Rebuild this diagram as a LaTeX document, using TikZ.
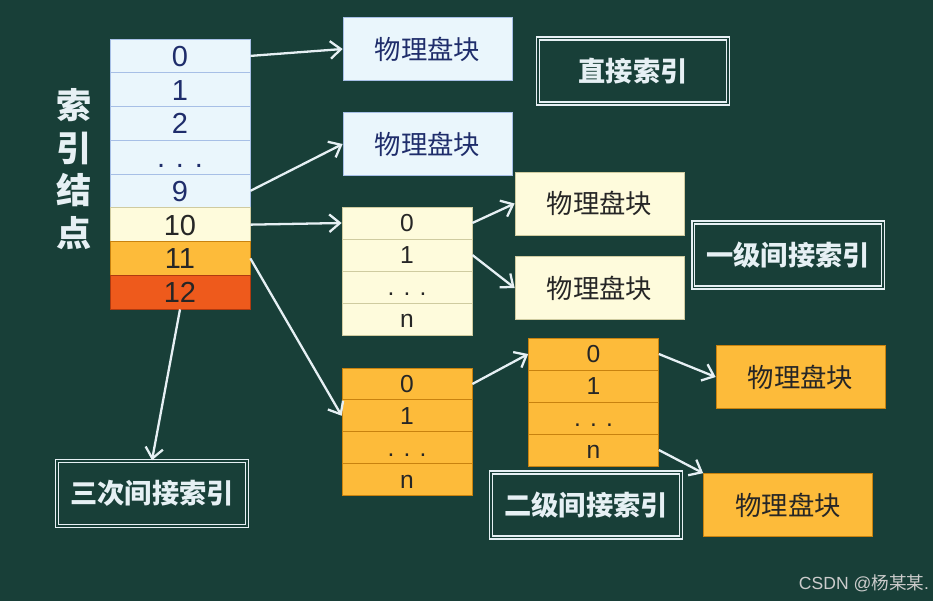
\documentclass[tikz,border=0pt]{standalone}
\usepackage{fontspec}
\setmainfont{Liberation Sans}
\newfontfamily\cjk{Noto Sans CJK SC}
\usetikzlibrary{arrows.meta,positioning}

\definecolor{board}{HTML}{183F38}
\definecolor{paleblue}{HTML}{EAF6FC}
\definecolor{blueline}{HTML}{A7BFE6}
\definecolor{paleyel}{HTML}{FEFBDC}
\definecolor{yelline}{HTML}{CFCBA0}
\definecolor{amber}{HTML}{FDBB3A}
\definecolor{ambline}{HTML}{C8820F}
\definecolor{redor}{HTML}{EE5A1C}
\definecolor{redline}{HTML}{B03A10}
\definecolor{navy}{HTML}{1F2D6B}
\definecolor{chalk}{HTML}{E6F0F4}

\tikzset{
  cell/.style={inner sep=0pt, minimum width=2.6cm, minimum height=0.64cm,
    text height=10pt, text depth=0pt, font=\fontsize{14}{14}\selectfont},
  idxcell/.style={cell, minimum width=2.8cm, minimum height=0.675cm,
    text height=11.8pt, font=\fontsize{16.5}{16.5}\selectfont},
  blu/.style={fill=paleblue, draw=blueline, text=navy},
  yel/.style={fill=paleyel, draw=yelline, text=black!85},
  amb/.style={fill=amber, draw=ambline, text=black!85},
  rd/.style={fill=redor, draw=redline, text=black!85},
  block/.style={inner sep=0pt, minimum width=3.38cm, minimum height=1.26cm,
    font=\cjk\fontsize{15}{15}\selectfont},
  tag/.style={draw=chalk, double=board, line width=0.9pt, double distance=0.6pt,
    minimum width=3.8cm, minimum height=1.3cm, text=chalk,
    font=\cjk\bfseries\fontsize{15.5}{15.5}\selectfont},
  arr/.style={draw=chalk, line width=1.3pt, -{Straight Barb[length=6pt,width=10pt]}}
}

\begin{document}
\begin{tikzpicture}[x=0.02cm, y=-0.02cm]
  \useasboundingbox (0,0) rectangle (933,601);
  \fill[board] (0,0) rectangle (933,601);

  \node[text=chalk, font=\cjk\bfseries\fontsize{20}{24.4}\selectfont, align=center]
    (title) at (74,169) {索\\引\\结\\点};

  \foreach \n/\lbl/\sty [count=\k from 0] in
      {0/0/blu,1/1/blu,2/2/blu,d/{. . .}/blu,9/9/blu,10/10/yel,11/11/amb,12/12/rd}
    \node[idxcell, \sty] (ix\n) at (180, 55.9+33.75*\k) {\lbl};

  \foreach \n/\lbl [count=\k from 0] in {0/0,1/1,d/{. . .},n/n} {
    \node[cell, yel] (la\n) at (407, 223+32*\k) {\lbl};
    \node[cell, amb] (lb\n) at (407, 384+31.75*\k) {\lbl};
    \node[cell, amb] (lc\n) at (593.5, 354+32*\k) {\lbl};
  }

  \node[block, blu] (p1) at (427.5,49) {物理盘块};
  \node[block, blu] (p2) at (427.5,144) {物理盘块};
  \node[block, yel] (p3) at (599.5,203.5) {物理盘块};
  \node[block, yel] (p4) at (599.5,288) {物理盘块};
  \node[block, amb] (p5) at (800.5,377) {物理盘块};
  \node[block, amb] (p6) at (788,505) {物理盘块};

  \node[tag] (direct) at (633,71) {直接索引};
  \node[tag] (lvlone) at (788,255) {一级间接索引};
  \node[tag] (lvltwo) at (586,505) {二级间接索引};
  \node[tag] (lvlthree) at (152,493.5) {三次间接索引};

  \draw[arr] (ix0.east) -- (p1.west);
  \draw[arr] (ix9.east) -- (p2.west);
  \draw[arr] (ix10.east) -- (la0.west);
  \draw[arr] (ix11.east) -- (lb1.west);
  \draw[arr] (ix12.south) -- (lvlthree.north);
  \draw[arr] (la0.east) -- (p3.west);
  \draw[arr] (la1.east) -- (p4.west);
  \draw[arr] (lb0.east) -- (lc0.west);
  \draw[arr] (lc0.east) -- (p5.west);
  \draw[arr] (lcn.east) -- (p6.north west);

  \node[font=\fontsize{10}{10}\selectfont, text=black!20]
    (mark) at (864,583) {CSDN @{\cjk 杨某某}.};
\end{tikzpicture}
\end{document}
